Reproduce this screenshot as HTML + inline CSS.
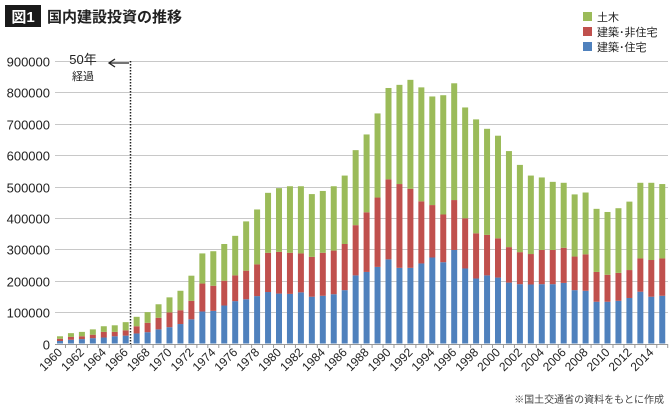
<!DOCTYPE html>
<html><head><meta charset="utf-8"><style>
body{margin:0;background:#fff;width:670px;height:410px;overflow:hidden;font-family:"Liberation Sans","Noto Sans CJK JP",sans-serif}
</style></head><body>
<svg id="chart" width="670" height="410" xmlns="http://www.w3.org/2000/svg" font-family="Liberation Sans, Noto Sans CJK JP, sans-serif">
<g>
<rect x="5" y="5" width="36" height="22" fill="#1a1a1a"/>
<text x="23" y="22" fill="#fff" font-size="15" font-weight="bold" text-anchor="middle">図1</text>
<text x="47" y="22" fill="#222" font-size="15" font-weight="bold">国内建設投資の推移</text>
</g>
<g id="grid"></g><g id="bars"></g><g id="xlabels"></g>
<g>
<rect x="583" y="12" width="9" height="9" fill="#9bbb59"/><text x="597" y="21" font-size="11" fill="#222">土木</text>
<rect x="583" y="27" width="9" height="9" fill="#c0504d"/><text x="597" y="36" font-size="11" fill="#222">建築･非住宅</text>
<rect x="583" y="42" width="9" height="9" fill="#4f81bd"/><text x="597" y="51" font-size="11" fill="#222">建築･住宅</text>
</g>
<g>
<line x1="130.5" y1="61" x2="130.5" y2="344" stroke="#222" stroke-width="1.5" stroke-dasharray="1.5,1.5"/>
<line x1="109" y1="63" x2="129" y2="63" stroke="#222" stroke-width="1.3"/>
<polyline points="115,59 109,63 115,67" fill="none" stroke="#222" stroke-width="1.3"/>
<text x="83" y="64" font-size="13" text-anchor="middle" fill="#222">50年</text>
<text x="83" y="80" font-size="11" text-anchor="middle" fill="#222">経過</text>
</g>
<text x="664" y="403" font-size="10" text-anchor="end" fill="#444">※国土交通省の資料をもとに作成</text>
</svg>
<script>
const years=[];for(let y=1960;y<=2015;y++)years.push(y);
const residential=[8,12,14,17,19,23,25,32,36,45,52,62,77,102,104,121,135,141,151,164,159,158,163,149,152,157,170,217,228,244,268,241,241,255,274,259,298,239,207,217,210,194,189,188,189,189,193,170,168,133,133,136,145,165,149,152];
const nonResidential=[7,9,9,11,18,14,17,23,30,37,47,44,59,89,80,79,82,91,101,125,133,131,124,127,137,139,147,160,190,221,255,267,252,198,167,152,159,160,144,129,125,113,102,97,109,109,112,107,116,95,86,89,89,106,117,119];
const civil=[8,12,14,17,18,21,26,30,34,43,48,62,80,96,110,117,126,157,175,191,203,212,214,200,197,205,218,239,248,268,291,316,347,363,346,380,372,353,363,338,327,306,278,250,231,217,207,198,197,201,200,206,218,241,246,237];
const yTicks=[0,100000,200000,300000,400000,500000,600000,700000,800000,900000];
const NS='http://www.w3.org/2000/svg';
const x0=60,dx=10.95,bw=6,yBase=343.5,yTop=61;
function xs(i){return x0+i*dx;}
function ys(v){return yBase-(v/900000)*(yBase-yTop);}
function mk(t,a,p){const e=document.createElementNS(NS,t);for(const k in a)e.setAttribute(k,a[k]);p.appendChild(e);return e;}
const grid=document.getElementById('grid'),bars=document.getElementById('bars'),xl=document.getElementById('xlabels');
yTicks.forEach(v=>{
 const y=Math.round(ys(v))+0.5;
 const l=mk('line',{x1:55,x2:668,y1:y,y2:y,stroke:v===0?'#999':'#c8c8c8','stroke-width':1},grid);
 
 
 const t=mk('text',{x:50,y:y+5,'font-size':13,'text-anchor':'end',fill:'#222'},grid);
 t.textContent=v;
 
 
});
years.forEach((yr,i)=>{
 const cx=xs(i);
 const a=residential[i]*1000,b=nonResidential[i]*1000,c=civil[i]*1000;
 const segs=[[0,a,'#4f81bd','bar-residential'],[a,a+b,'#c0504d','bar-non-residential'],[a+b,a+b+c,'#9bbb59','bar-civil']];
 segs.forEach(s=>{
  const r=mk('rect',{x:cx-bw/2,y:ys(s[1]),width:bw,height:ys(s[0])-ys(s[1]),fill:s[2]},bars);
  
  
 });
 mk('line',{x1:cx+dx/2,x2:cx+dx/2,y1:344,y2:348,stroke:'#999'},grid);
 if(yr%2===0){
  const t=mk('text',{x:cx+3,y:353,'font-size':12,'text-anchor':'end',fill:'#222',transform:`rotate(-45 ${cx+3} 353)`},xl);
  t.textContent=yr;
  
  
 }
});
</script>
</body></html>
